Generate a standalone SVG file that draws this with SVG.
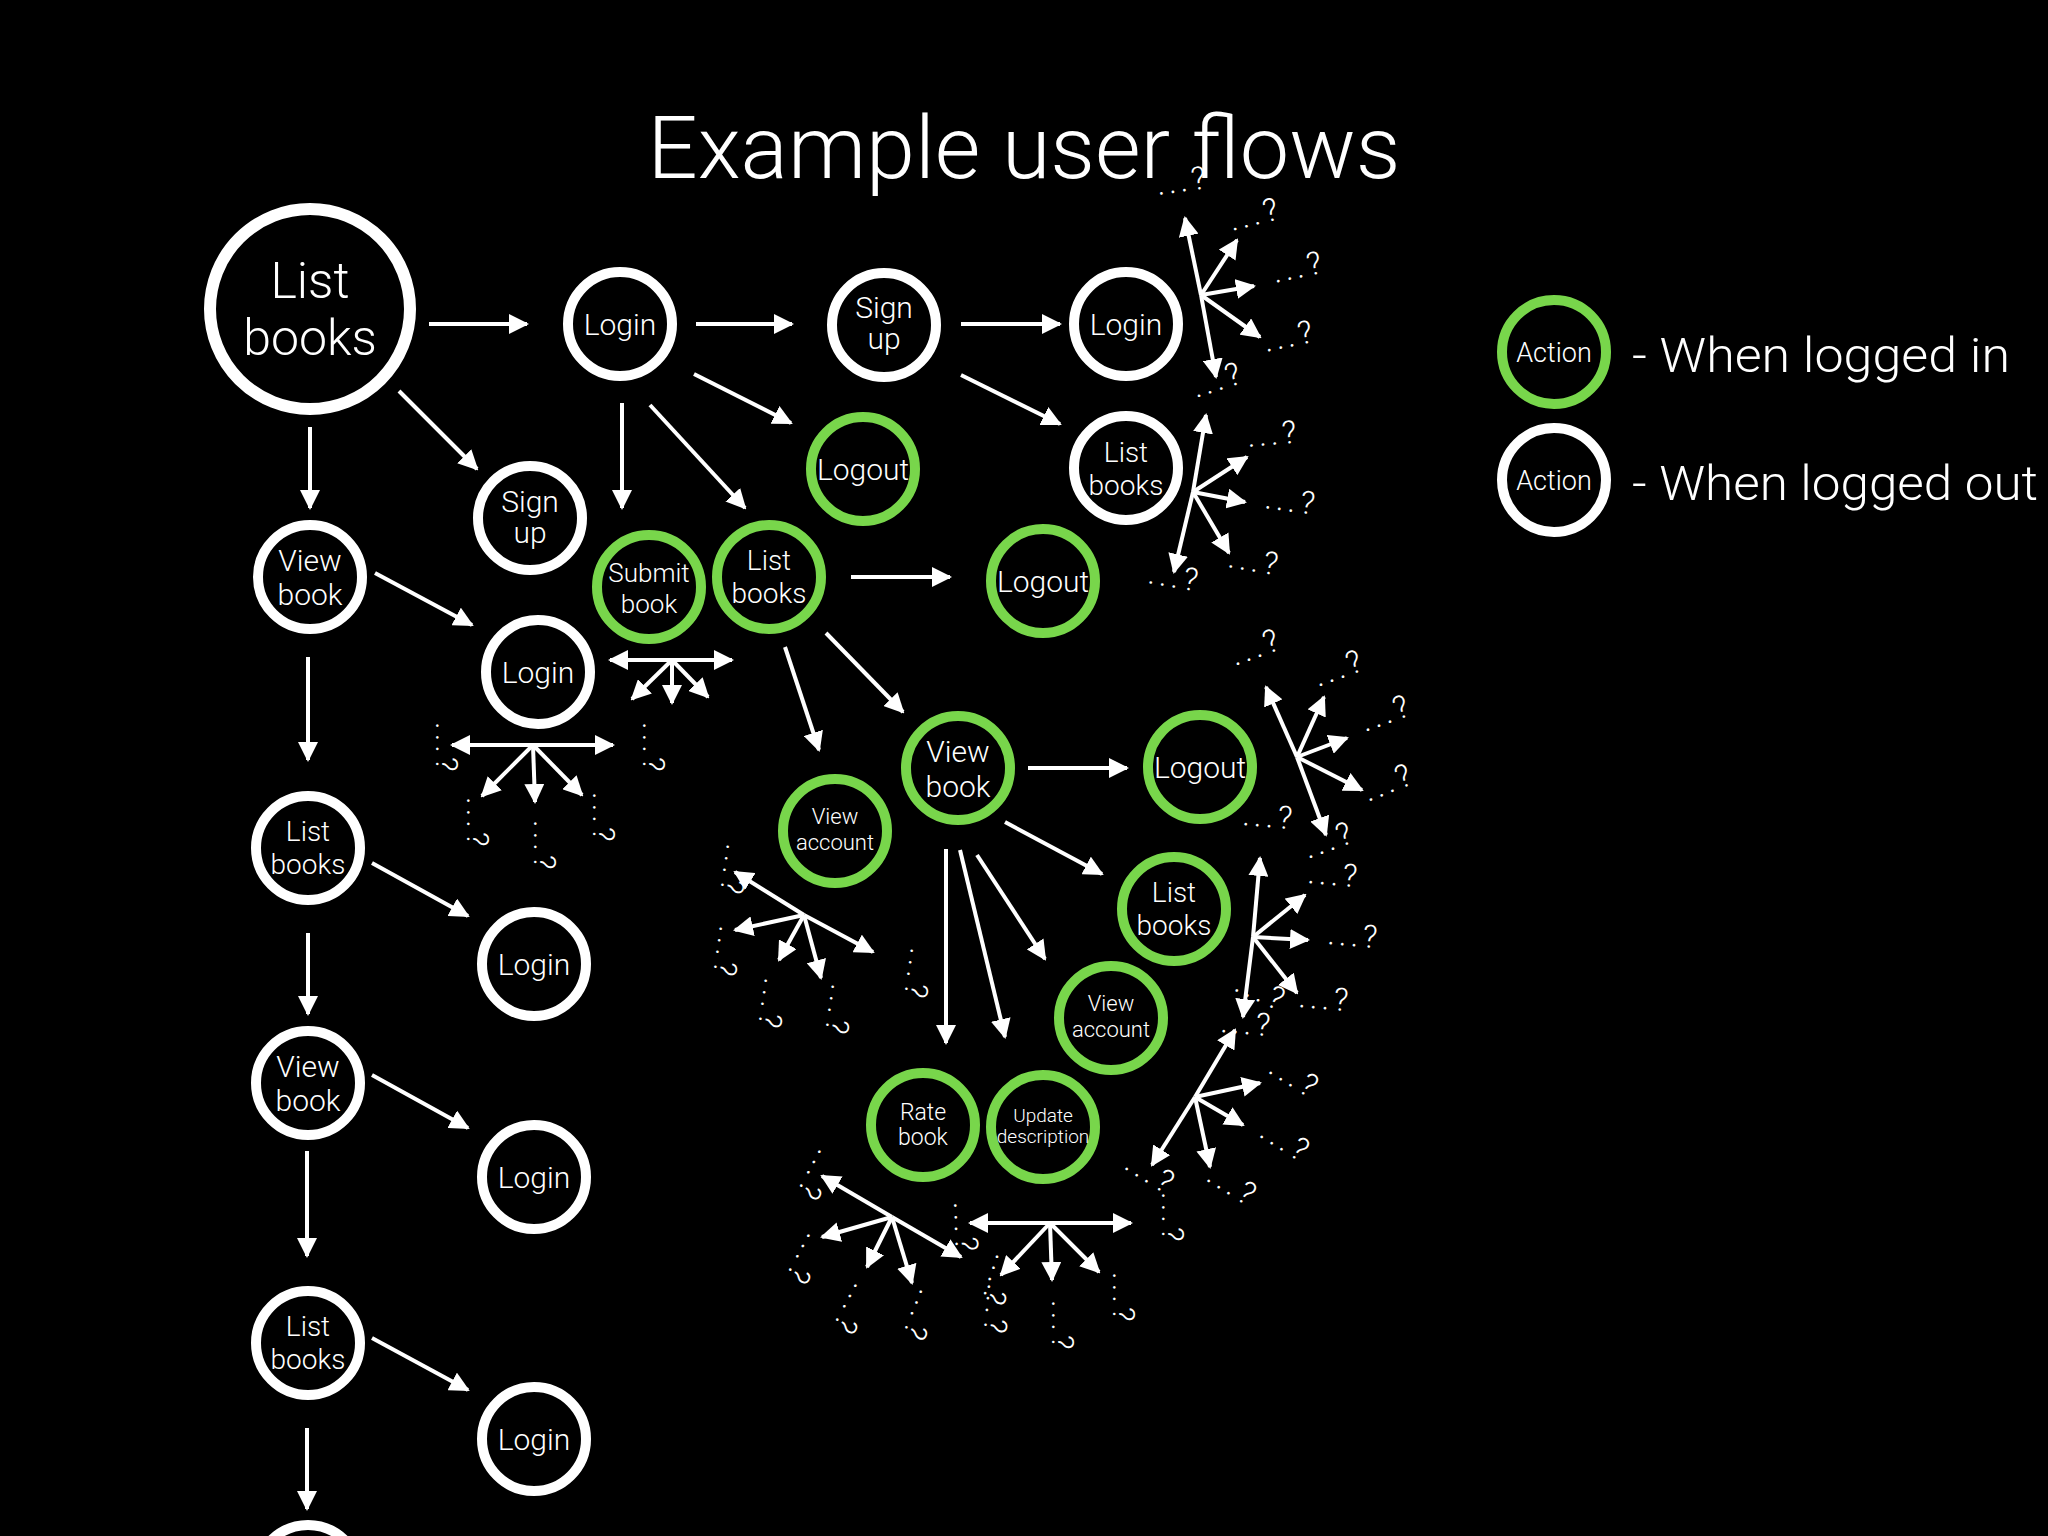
<svg xmlns="http://www.w3.org/2000/svg" width="2048" height="1536" viewBox="0 0 2048 1536">
<defs>
<marker id="ah" viewBox="0 0 20 20" refX="18" refY="10" markerWidth="20" markerHeight="20" markerUnits="userSpaceOnUse" orient="auto-start-reverse"><path d="M0,0 L20,10 L0,20 z" fill="#fff"/></marker>
<style>
text{fill:#fff;font-family:Roboto,"Liberation Sans",sans-serif;font-weight:300;text-anchor:middle}
.n circle{fill:#000;stroke:#fff;stroke-width:10}
.g circle{stroke:#78d64b}
.big circle{stroke-width:12}
.c line{stroke:#fff;stroke-width:4;marker-end:url(#ah)}
.q{font-size:32px;letter-spacing:4px;text-anchor:start}
.f30{font-size:30px}
.f28{font-size:28px}
.f22{font-size:22px}
</style>
</defs>
<rect width="2048" height="1536" fill="#000"/>
<text x="1024" y="178" font-size="88" textLength="753" lengthAdjust="spacingAndGlyphs">Example user flows</text>

<g id="legend">
<g id="legend-in" class="n g"><circle cx="1554" cy="352" r="52"/><text x="1554" y="362" font-size="27">Action</text></g>
<g id="legend-out" class="n"><circle cx="1554" cy="480" r="52"/><text x="1554" y="490" font-size="27">Action</text></g>
<text x="1632" y="372" font-size="49" style="text-anchor:start" textLength="378" lengthAdjust="spacingAndGlyphs">- When logged in</text>
<text x="1632" y="500" font-size="49" style="text-anchor:start" textLength="406" lengthAdjust="spacingAndGlyphs">- When logged out</text>
</g>

<g id="n-list-big" class="n big"><circle cx="310" cy="309" r="100"/><text x="310" y="298" font-size="50">List</text><text x="310" y="355" font-size="50">books</text></g>
<g id="n-login1" class="n"><circle cx="620" cy="324" r="52"/><text class="f30" x="620" y="335">Login</text></g>
<g id="n-signup1" class="n"><circle cx="884" cy="325" r="52"/><text class="f30" x="884" y="318">Sign</text><text class="f30" x="884" y="349">up</text></g>
<g id="n-login2" class="n"><circle cx="1126" cy="324" r="52"/><text class="f30" x="1126" y="335">Login</text></g>
<g id="n-logout1" class="n g"><circle cx="863" cy="469" r="52"/><text class="f30" x="863" y="480">Logout</text></g>
<g id="n-list2" class="n"><circle cx="1126" cy="468" r="52"/><text class="f28" x="1126" y="462">List</text><text class="f28" x="1126" y="495">books</text></g>
<g id="n-signup2" class="n"><circle cx="530" cy="518" r="52"/><text class="f30" x="530" y="512">Sign</text><text class="f30" x="530" y="543">up</text></g>
<g id="n-view1" class="n"><circle cx="310" cy="577" r="52"/><text class="f30" x="310" y="571">View</text><text class="f30" x="310" y="605">book</text></g>
<g id="n-submit" class="n g"><circle cx="649" cy="587" r="52"/><text font-size="26" x="649" y="582">Submit</text><text font-size="26" x="649" y="613">book</text></g>
<g id="n-list3" class="n g"><circle cx="769" cy="577" r="52"/><text class="f28" x="769" y="570">List</text><text class="f28" x="769" y="603">books</text></g>
<g id="n-logout2" class="n g"><circle cx="1043" cy="581" r="52"/><text class="f30" x="1043" y="592">Logout</text></g>
<g id="n-login3" class="n"><circle cx="538" cy="672" r="52"/><text class="f30" x="538" y="683">Login</text></g>
<g id="n-list4" class="n"><circle cx="308" cy="848" r="52"/><text class="f28" x="308" y="841">List</text><text class="f28" x="308" y="874">books</text></g>
<g id="n-login4" class="n"><circle cx="534" cy="964" r="52"/><text class="f30" x="534" y="975">Login</text></g>
<g id="n-view2" class="n"><circle cx="308" cy="1083" r="52"/><text class="f30" x="308" y="1077">View</text><text class="f30" x="308" y="1111">book</text></g>
<g id="n-login5" class="n"><circle cx="534" cy="1177" r="52"/><text class="f30" x="534" y="1188">Login</text></g>
<g id="n-list5" class="n"><circle cx="308" cy="1343" r="52"/><text class="f28" x="308" y="1336">List</text><text class="f28" x="308" y="1369">books</text></g>
<g id="n-login6" class="n"><circle cx="534" cy="1439" r="52"/><text class="f30" x="534" y="1450">Login</text></g>
<g id="n-bottom" class="n"><circle cx="308" cy="1577" r="52"/></g>
<g id="n-account1" class="n g"><circle cx="835" cy="831" r="52"/><text class="f22" x="835" y="824">View</text><text class="f22" x="835" y="850">account</text></g>
<g id="n-view3" class="n g"><circle cx="958" cy="768" r="52"/><text class="f30" x="958" y="762">View</text><text class="f30" x="958" y="797">book</text></g>
<g id="n-logout3" class="n g"><circle cx="1200" cy="767" r="52"/><text class="f30" x="1200" y="778">Logout</text></g>
<g id="n-list6" class="n g"><circle cx="1174" cy="909" r="52"/><text class="f28" x="1174" y="902">List</text><text class="f28" x="1174" y="935">books</text></g>
<g id="n-account2" class="n g"><circle cx="1111" cy="1018" r="52"/><text class="f22" x="1111" y="1011">View</text><text class="f22" x="1111" y="1037">account</text></g>
<g id="n-rate" class="n g"><circle cx="923" cy="1125" r="52"/><text font-size="23" x="923" y="1120">Rate</text><text font-size="23" x="923" y="1145">book</text></g>
<g id="n-update" class="n g"><circle cx="1043" cy="1127" r="52"/><text font-size="19" x="1043" y="1122">Update</text><text font-size="19" x="1043" y="1143">description</text></g>

<g id="connectors" class="c">
<line x1="429" y1="324" x2="527" y2="324"/>
<line x1="696" y1="324" x2="792" y2="324"/>
<line x1="961" y1="324" x2="1060" y2="324"/>
<line x1="399" y1="391" x2="477" y2="469"/>
<line x1="310" y1="427" x2="310" y2="508"/>
<line x1="622" y1="403" x2="622" y2="508"/>
<line x1="650" y1="405" x2="745" y2="508"/>
<line x1="694" y1="374" x2="791" y2="423"/>
<line x1="961" y1="375" x2="1060" y2="424"/>
<line x1="375" y1="573" x2="472" y2="625"/>
<line x1="851" y1="577" x2="950" y2="577"/>
<line x1="785" y1="647" x2="819" y2="750"/>
<line x1="826" y1="633" x2="903" y2="712"/>
<line x1="308" y1="657" x2="308" y2="760"/>
<line x1="372" y1="863" x2="468" y2="916"/>
<line x1="308" y1="933" x2="308" y2="1014"/>
<line x1="372" y1="1075" x2="468" y2="1128"/>
<line x1="307" y1="1151" x2="307" y2="1256"/>
<line x1="372" y1="1338" x2="468" y2="1390"/>
<line x1="307" y1="1428" x2="307" y2="1509"/>
<line x1="1028" y1="768" x2="1127" y2="768"/>
<line x1="1005" y1="822" x2="1102" y2="874"/>
<line x1="946" y1="849" x2="946" y2="1043"/>
<line x1="960" y1="850" x2="1005" y2="1037"/>
<line x1="977" y1="855" x2="1045" y2="959"/>
<line x1="1201" y1="295" x2="1185" y2="218"/><line x1="1201" y1="295" x2="1237" y2="240"/><line x1="1201" y1="295" x2="1254" y2="286"/><line x1="1201" y1="295" x2="1260" y2="337"/><line x1="1201" y1="295" x2="1216" y2="377"/>
<line x1="1193" y1="492" x2="1206" y2="415"/><line x1="1193" y1="492" x2="1247" y2="457"/><line x1="1193" y1="492" x2="1245" y2="502"/><line x1="1193" y1="492" x2="1229" y2="553"/><line x1="1193" y1="492" x2="1174" y2="572"/>
<line x1="672" y1="660" x2="610" y2="660"/><line x1="672" y1="660" x2="732" y2="660"/><line x1="672" y1="660" x2="632" y2="699"/><line x1="672" y1="660" x2="672" y2="703"/><line x1="672" y1="660" x2="708" y2="697"/>
<line x1="533" y1="745" x2="452" y2="745"/><line x1="533" y1="745" x2="613" y2="745"/><line x1="533" y1="745" x2="482" y2="796"/><line x1="533" y1="745" x2="535" y2="802"/><line x1="533" y1="745" x2="582" y2="795"/>
<line x1="804" y1="915" x2="735" y2="872"/><line x1="804" y1="915" x2="873" y2="952"/><line x1="804" y1="915" x2="735" y2="930"/><line x1="804" y1="915" x2="779" y2="960"/><line x1="804" y1="915" x2="821" y2="978"/>
<line x1="1297" y1="757" x2="1266" y2="687"/><line x1="1297" y1="757" x2="1324" y2="697"/><line x1="1297" y1="757" x2="1347" y2="738"/><line x1="1297" y1="757" x2="1362" y2="790"/><line x1="1297" y1="757" x2="1326" y2="835"/>
<line x1="1253" y1="937" x2="1260" y2="858"/><line x1="1253" y1="937" x2="1305" y2="895"/><line x1="1253" y1="937" x2="1308" y2="940"/><line x1="1253" y1="937" x2="1297" y2="993"/><line x1="1253" y1="937" x2="1243" y2="1017"/>
<line x1="1195" y1="1097" x2="1235" y2="1030"/><line x1="1195" y1="1097" x2="1260" y2="1083"/><line x1="1195" y1="1097" x2="1243" y2="1125"/><line x1="1195" y1="1097" x2="1210" y2="1167"/><line x1="1195" y1="1097" x2="1152" y2="1165"/>
<line x1="892" y1="1217" x2="822" y2="1176"/><line x1="892" y1="1217" x2="961" y2="1257"/><line x1="892" y1="1217" x2="822" y2="1237"/><line x1="892" y1="1217" x2="867" y2="1267"/><line x1="892" y1="1217" x2="912" y2="1283"/>
<line x1="1050" y1="1223" x2="970" y2="1223"/><line x1="1050" y1="1223" x2="1131" y2="1223"/><line x1="1050" y1="1223" x2="1001" y2="1275"/><line x1="1050" y1="1223" x2="1052" y2="1280"/><line x1="1050" y1="1223" x2="1099" y2="1272"/>
</g>

<g id="unknowns">
<text class="q" transform="translate(1158,195) rotate(-8)">...?</text>
<text class="q" transform="translate(1232,231) rotate(-14)">...?</text>
<text class="q" transform="translate(1275,283) rotate(-12)">...?</text>
<text class="q" transform="translate(1266,352) rotate(-12)">...?</text>
<text class="q" transform="translate(1196,398) rotate(-18)">...?</text>
<text class="q" transform="translate(1248,447) rotate(-5)">...?</text>
<text class="q" transform="translate(1264,508) rotate(8)">...?</text>
<text class="q" transform="translate(1227,567) rotate(10)">...?</text>
<text class="q" transform="translate(1147,583) rotate(10)">...?</text>
<text class="q" transform="translate(1235,666) rotate(-20)">...?</text>
<text class="q" transform="translate(1318,687) rotate(-20)">...?</text>
<text class="q" transform="translate(1365,732) rotate(-20)">...?</text>
<text class="q" transform="translate(1368,802) rotate(-22)">...?</text>
<text class="q" transform="translate(1242,825) rotate(5)">...?</text>
<text class="q" transform="translate(1308,859) rotate(-20)">...?</text>
<text class="q" transform="translate(1307,883) rotate(5)">...?</text>
<text class="q" transform="translate(1327,944) rotate(5)">...?</text>
<text class="q" transform="translate(1298,1007) rotate(5)">...?</text>
<text class="q" transform="translate(1233,990) rotate(25)">...?</text>
<text class="q" transform="translate(1220,1032) rotate(5)">...?</text>
<text class="q" transform="translate(1267,1072) rotate(32)">...?</text>
<text class="q" transform="translate(1258,1136) rotate(32)">...?</text>
<text class="q" transform="translate(1205,1180) rotate(32)">...?</text>
<text class="q" transform="translate(1123,1168) rotate(32)">...?</text>
<text class="q" transform="translate(1162,1192) rotate(90)">...?</text>
<text class="q" transform="translate(820,1148) rotate(118)">...?</text>
<text class="q" transform="translate(809,1232) rotate(118)">...?</text>
<text class="q" transform="translate(856,1282) rotate(118)">...?</text>
<text class="q" transform="translate(921,1288) rotate(112)">...?</text>
<text class="q" transform="translate(954,1202) rotate(88)">...?</text>
<text class="q" transform="translate(997,1253) rotate(108)">...?</text>
<text class="q" transform="translate(988,1283) rotate(95)">...?</text>
<text class="q" transform="translate(1052,1300) rotate(90)">...?</text>
<text class="q" transform="translate(1113,1272) rotate(90)">...?</text>
<text class="q" transform="translate(643,722) rotate(90)">...?</text>
<text class="q" transform="translate(436,722) rotate(90)">...?</text>
<text class="q" transform="translate(467,797) rotate(90)">...?</text>
<text class="q" transform="translate(534,820) rotate(90)">...?</text>
<text class="q" transform="translate(593,792) rotate(90)">...?</text>
<text class="q" transform="translate(727,843) rotate(98)">...?</text>
<text class="q" transform="translate(720,925) rotate(98)">...?</text>
<text class="q" transform="translate(765,977) rotate(98)">...?</text>
<text class="q" transform="translate(832,983) rotate(98)">...?</text>
<text class="q" transform="translate(911,947) rotate(98)">...?</text>
</g>
</svg>
